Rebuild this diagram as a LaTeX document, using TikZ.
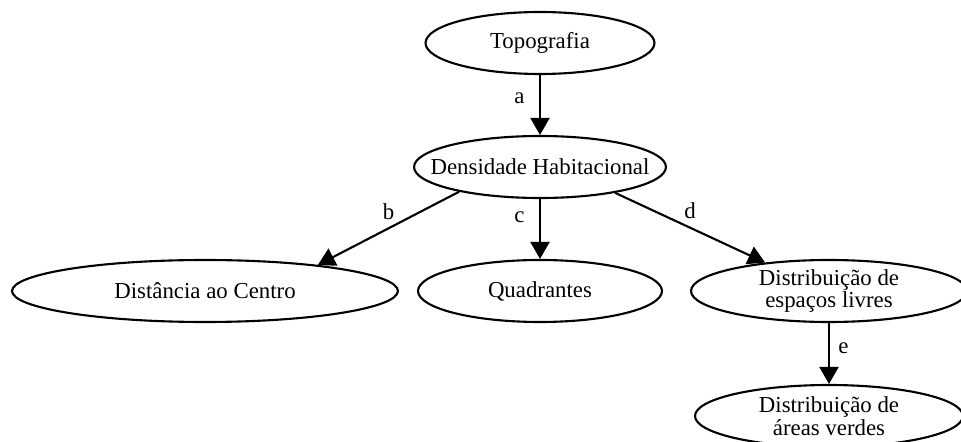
\documentclass[tikz,border=0pt]{standalone}
\usepackage{fontspec}
\setmainfont{Liberation Serif}
\usetikzlibrary{shapes.geometric, arrows.meta}

\begin{document}
\begin{tikzpicture}[x=0.02cm, y=-0.02cm,
    every node/.style={font=\fontsize{13}{12.8}\selectfont},
    elip/.style={draw, ellipse, line width=1.2pt, inner sep=0pt, minimum height=1.24cm},
    seta/.style={line width=1.2pt, -{Triangle[length=0.34cm,width=0.38cm]}}]
    \useasboundingbox (0,0) rectangle (961,442);
    % nos
    \node[elip, minimum width=4.58cm, label=center:Topografia] (topo) at (540,43) {};
    \node[elip, minimum width=5.04cm, label=center:Densidade Habitacional] (dens) at (540,167) {};
    \node[elip, minimum width=7.72cm, label=center:Distância ao Centro] (dist) at (205,291) {};
    \node[elip, minimum width=4.88cm, label=center:Quadrantes] (quad) at (540,291) {};
    \node[elip, minimum width=5.52cm, label={[align=center]center:{Distribuição de\\espaços livres}}] (esp) at (829,291) {};
    \node[elip, minimum width=5.36cm, label={[align=center]center:{Distribuição de\\áreas verdes}}] (area) at (829,416) {};
    % arestas
    \draw[seta] (topo) -- node[pos=0.38, left=0.17cm] (lbla) {a} (dens);
    \draw[seta] (dens.197) -- node[above=1pt] (lblb) {b} (dist.13);
    \draw[seta] (dens) -- node[pos=0.31, left=0.17cm] (lblc) {c} (quad);
    \draw[seta] (dens.341) -- node[above=1pt] (lbld) {d} (esp.156);
    \draw[seta] (esp) -- node[pos=0.41, right=0.05cm] (lble) {e} (area);
\end{tikzpicture}
\end{document}
